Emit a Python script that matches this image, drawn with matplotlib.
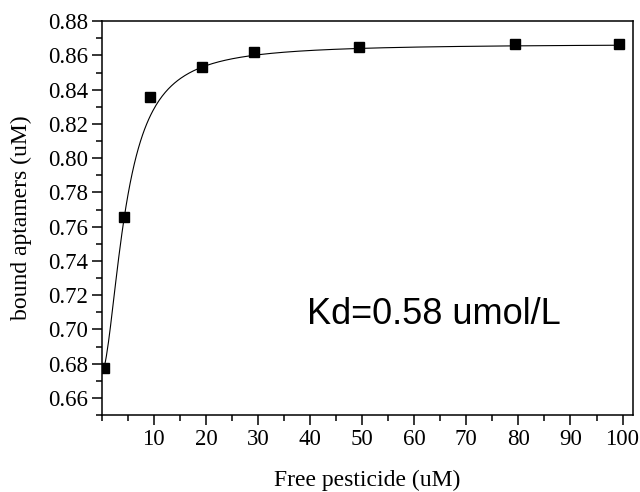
import numpy as np
import matplotlib.pyplot as plt
from matplotlib.ticker import MultipleLocator

# measured binding data
free_pesticide = [0.5, 4.3, 9.2, 19.2, 29.2, 49.3, 79.4, 99.4]
bound_aptamers = [0.6775, 0.7655, 0.8358, 0.8533, 0.8621, 0.8651, 0.8665, 0.8665]

# Hill-type fit parameters
fit_base = 0.675
fit_top = 0.8667
fit_k = 4.6
fit_n = 1.8

plt.rcParams['font.family'] = 'Liberation Serif'
fig = plt.figure(figsize=(6.4, 4.92), dpi=100)
ax = fig.add_axes([0.159, 0.1565, 0.83, 0.8005])

xfit = np.linspace(free_pesticide[0], free_pesticide[-1], 500)
yfit = fit_base + (fit_top - fit_base) * xfit**fit_n / (fit_k**fit_n + xfit**fit_n)
ax.plot(xfit, yfit, color='black', lw=0.8)
ax.plot(free_pesticide, bound_aptamers, 's', color='black', markersize=6.5)

ax.set_xlim(0, 102)
ax.set_ylim(0.65, 0.88)
ax.set_xticks(range(10, 101, 10))
ax.set_yticks(np.arange(0.66, 0.881, 0.02))
ax.yaxis.set_major_formatter(plt.FormatStrFormatter('%.2f'))
ax.xaxis.set_minor_locator(MultipleLocator(5))
ax.yaxis.set_minor_locator(MultipleLocator(0.01))
ax.tick_params(which='major', direction='out', length=7, width=1.1, labelsize=16.5, pad=3)
ax.tick_params(which='minor', direction='out', length=4, width=1.1)
for s in ax.spines.values():
    s.set_linewidth(1.1)

ax.set_xlabel('Free pesticide (uM)', fontsize=17, labelpad=14)
ax.set_ylabel('bound aptamers (uM)', fontsize=17, labelpad=11)

ax.text(0.386, 0.232, 'Kd=0.58 umol/L', transform=ax.transAxes,
        fontsize=26, family='Liberation Sans')

fig.savefig('out.png', dpi=100)
